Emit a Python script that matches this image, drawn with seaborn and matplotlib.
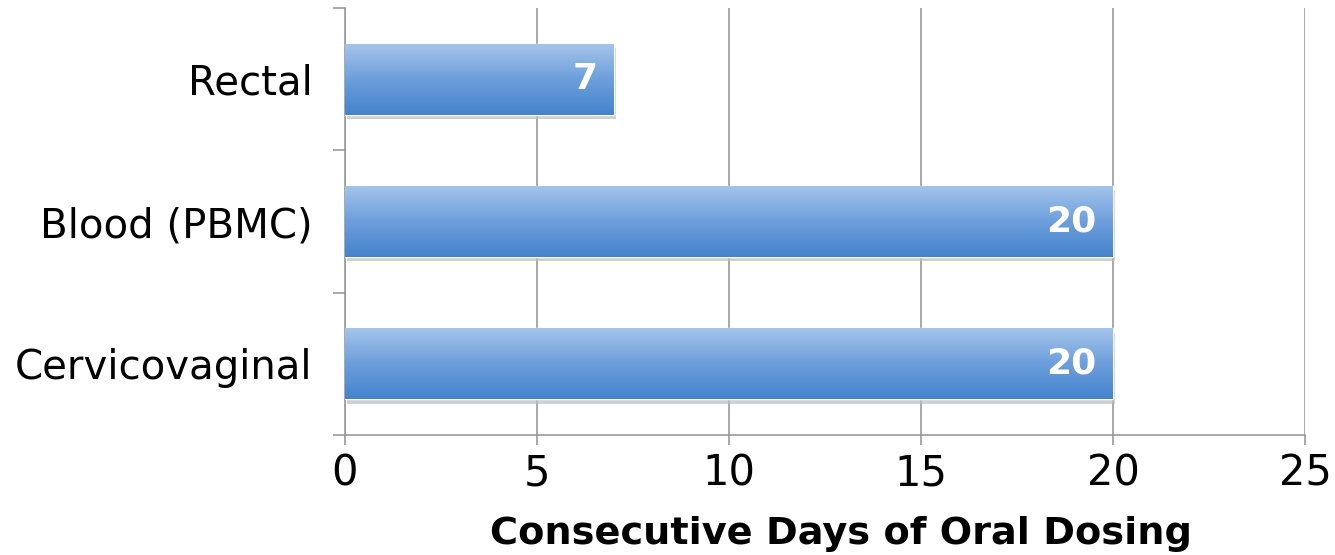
import numpy as np
import pandas as pd
import matplotlib
matplotlib.use("Agg")
import matplotlib.pyplot as plt
import seaborn as sns
from matplotlib.colors import LinearSegmentedColormap

# data
categories = ["Rectal", "Blood (PBMC)", "Cervicovaginal"]
days = [7, 20, 20]
x_ticks = [0, 5, 10, 15, 20, 25]

df = pd.DataFrame({"site": categories, "days": days})

sns.set_style("white")
plt.rcParams["font.family"] = ["DejaVu Sans"]

fig = plt.figure(figsize=(13.35, 5.55), dpi=100)
ax = fig.add_axes([0.2584, 0.2162, 0.7191, 0.7694])

sns.barplot(data=df, x="days", y="site", orient="h", width=0.5,
            color="#5b93d6", ax=ax, zorder=3)

# gradient fill for each bar (light on top, darker at the bottom)
grad = LinearSegmentedColormap.from_list("g", ["#a6c5eb", "#6d9fdc", "#4483cc"])
gimg = np.linspace(0, 1, 256).reshape(-1, 1)
for p in ax.patches:
    x0, y0 = p.get_x(), p.get_y()
    w, h = p.get_width(), p.get_height()
    # soft shadow
    ax.add_patch(plt.Rectangle((x0 + 0.05, y0 + 0.03), w, h, color="#bdbdbd",
                               alpha=0.7, zorder=2, lw=0))
    im = ax.imshow(gimg, extent=[x0, x0 + w, y0 + h, y0], cmap=grad,
                   aspect="auto", origin="upper", zorder=4)
    im.set_clip_path(p)
    ax.text(x0 + w - 0.42, y0 + h / 2, str(int(w)), ha="right", va="center",
            color="white", fontsize=26, fontweight="bold", zorder=5)

ax.set_xlim(0, 25)
ax.set_ylim(2.5, -0.5)
ax.set_xticks(x_ticks)
ax.set_yticks([-0.5, 0.5, 1.5, 2.5], minor=True)
ax.tick_params(axis="x", bottom=True, labelsize=30, length=7.5, width=1.2,
               color="#999999", labelcolor="black", pad=5)
ax.tick_params(axis="y", which="major", left=False, labelsize=29,
               labelcolor="black", pad=20)
ax.tick_params(axis="y", which="minor", left=True, length=9, width=1.2,
               color="#999999")
ax.xaxis.grid(True, color="#999999", lw=1.2, zorder=0)
ax.set_axisbelow(True)
for s in ["top", "right"]:
    ax.spines[s].set_visible(False)
for s in ["left", "bottom"]:
    ax.spines[s].set_color("#999999")
    ax.spines[s].set_linewidth(1.2)
ax.set_ylabel("")
ax.set_xlabel("Consecutive Days of Oral Dosing", fontsize=27.5, fontweight="bold",
              color="black")
ax.xaxis.set_label_coords(0.517, -0.19)

fig.savefig("out.png", dpi=100)
